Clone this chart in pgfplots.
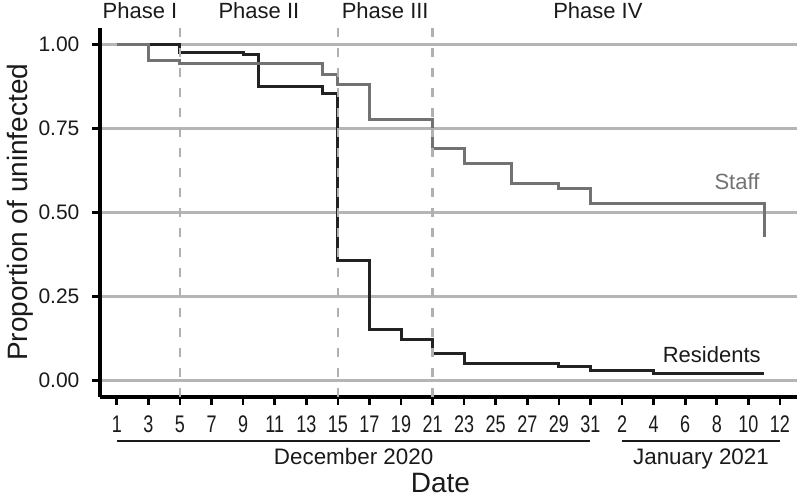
\documentclass[border=0pt]{standalone}
\usepackage{fontspec}
\setmainfont{Liberation Sans}
\newfontfamily\narrowfont[FakeStretch=0.75]{Liberation Sans}
\usepackage{pgfplots}
\pgfplotsset{compat=1.18}
\definecolor{resc}{HTML}{222222}
\definecolor{staffc}{HTML}{727272}
\definecolor{gridc}{HTML}{B5B5B5}
\definecolor{dashc}{HTML}{B0B0B0}
\definecolor{textc}{HTML}{1A1A1A}
\begin{document}
\begin{tikzpicture}
\useasboundingbox (-50pt,-50pt) rectangle (350pt,198.5pt);
\begin{axis}[
  scale only axis, width=348.5pt, height=184.65pt,
  xmin=-0.064, xmax=44.08, ymin=-0.049, ymax=1.05,
  axis lines=left, axis line style={-, line width=1.6pt, black},
  clip=false,
  xtick={1,3,...,43},
  xticklabels={1,3,5,7,9,11,13,15,17,19,21,23,25,27,29,31,2,4,6,8,10,12},
  ytick={0,0.25,0.5,0.75,1},
  yticklabels={0.00,0.25,0.50,0.75,1.00},
  tick align=outside, major tick length=3.8pt,
  tick style={line width=1.3pt, black},
  ymajorgrids, grid style={line width=1.3pt, gridc},
  xticklabel style={font=\narrowfont\fontsize{12}{14}\selectfont, anchor=base, inner sep=0pt, yshift=-14.2pt, text=textc},
  yticklabel style={font=\fontsize{10.5}{12}\selectfont, anchor=east, inner sep=0pt, xshift=-6.3pt, text=textc},
  xlabel={Date},
  xlabel style={font=\fontsize{14}{16}\selectfont, at={(axis cs:21.5,-0.334)}, anchor=base, text=textc},
  ylabel={Proportion of uninfected},
  ylabel style={font=\fontsize{14}{16}\selectfont, at={(axis description cs:-0.1148,0.5)}, anchor=center, rotate=0, text=textc},
]
\addplot[const plot, resc, line width=1.5pt] coordinates {
(1,1.0) (5,0.977) (9,0.969) (10,0.874) (14,0.855) (15,0.357) (17,0.153)
(19,0.123) (21,0.081) (23,0.051) (29,0.043) (31,0.031) (35,0.021) (42,0.021)};
\addplot[const plot, staffc, line width=1.5pt] coordinates {
(1,1.0) (3,0.953) (5,0.942) (14,0.911) (15,0.882) (17,0.777) (21,0.691)
(23,0.646) (26,0.585) (29,0.572) (31,0.527) (42,0.428)};
\addplot[dashc, dash pattern=on 4.5pt off 5.5pt, line width=1.1pt] coordinates {(5,-0.049) (5,1.05)};
\addplot[dashc, dash pattern=on 4.5pt off 5.5pt, line width=1.1pt] coordinates {(15,-0.049) (15,1.05)};
\addplot[dashc, dash pattern=on 4.5pt off 5.5pt, line width=1.1pt] coordinates {(21,-0.049) (21,1.05)};
\node[font=\fontsize{11}{13}\selectfont, anchor=base, text=textc] at (axis cs:2.47,1.078) {Phase I};
\node[font=\fontsize{11}{13}\selectfont, anchor=base, text=textc] at (axis cs:10,1.078) {Phase II};
\node[font=\fontsize{11}{13}\selectfont, anchor=base, text=textc] at (axis cs:18,1.078) {Phase III};
\node[font=\fontsize{11}{13}\selectfont, anchor=base, text=textc] at (axis cs:31.47,1.078) {Phase IV};
\node[font=\fontsize{11}{13}\selectfont, anchor=base, text=staffc] at (axis cs:40.28,0.569) {Staff};
\node[font=\fontsize{11}{13}\selectfont, anchor=base, text=textc] at (axis cs:38.68,0.054) {Residents};
\draw[textc, line width=0.7pt] (axis cs:1,-0.18) -- (axis cs:31,-0.18);
\draw[textc, line width=0.7pt] (axis cs:33,-0.18) -- (axis cs:43,-0.18);
\node[font=\fontsize{11.2}{13}\selectfont, anchor=base, text=textc] at (axis cs:16,-0.2485) {December 2020};
\node[font=\fontsize{11.2}{13}\selectfont, anchor=base, text=textc] at (axis cs:38,-0.2485) {January 2021};
\end{axis}
\end{tikzpicture}
\end{document}
